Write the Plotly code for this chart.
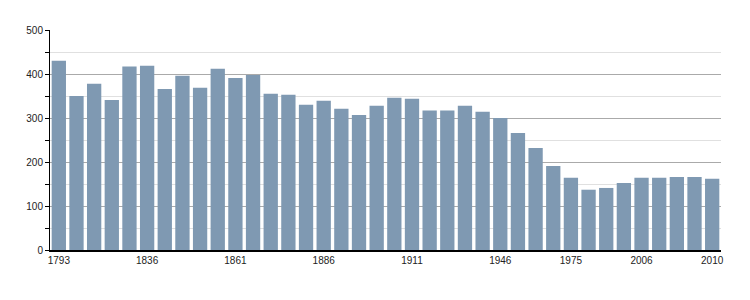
import plotly.graph_objects as go

years = ["1793", "1800", "1806", "1821", "1831", "1836", "1841", "1846", "1851", "1856",
         "1861", "1866", "1872", "1876", "1881", "1886", "1891", "1896", "1901", "1906",
         "1911", "1921", "1926", "1931", "1936", "1946", "1954", "1962", "1968", "1975",
         "1982", "1990", "1999", "2006", "2007", "2008", "2009", "2010"]
population = [430, 350, 378, 341, 417, 419, 366, 396, 369, 412,
              391, 398, 355, 353, 330, 339, 321, 307, 328, 346,
              344, 317, 317, 328, 314, 300, 266, 232, 191, 164,
              137, 141, 152, 164, 164, 166, 166, 162]
tick_years = ["1793", "1836", "1861", "1886", "1911", "1946", "1975", "2006", "2010"]

fig = go.Figure(go.Bar(x=years, y=population, marker=dict(color="#7f99b2", line=dict(width=0)),
                       hoverinfo="x+y"))

fig.update_layout(
    width=750, height=300,
    margin=dict(l=50, r=29, t=30, b=50),
    paper_bgcolor="white", plot_bgcolor="white",
    bargap=0.19,
    showlegend=False,
    font=dict(family="Liberation Sans, Arial, sans-serif", size=10, color="#222"),
)
fig.update_xaxes(
    type="category", tickmode="array", tickvals=tick_years, ticktext=tick_years,
    range=[-0.5, len(years) - 0.5],
    showline=True, linecolor="black", linewidth=1.5,
    ticks="", showgrid=False, ticklabelstandoff=0,
)
fig.update_yaxes(
    range=[0, 500], tickmode="linear", tick0=0, dtick=100,
    showline=True, linecolor="black", linewidth=1,
    ticks="outside", ticklen=4, tickcolor="black",
    showgrid=True, gridcolor="#aaaaaa", gridwidth=1,
    zeroline=False,
    minor=dict(dtick=50, tick0=0, showgrid=True, gridcolor="#e0e0e0", gridwidth=1,
               ticks="outside", ticklen=4, tickcolor="black"),
)

fig.write_html("out.html")
